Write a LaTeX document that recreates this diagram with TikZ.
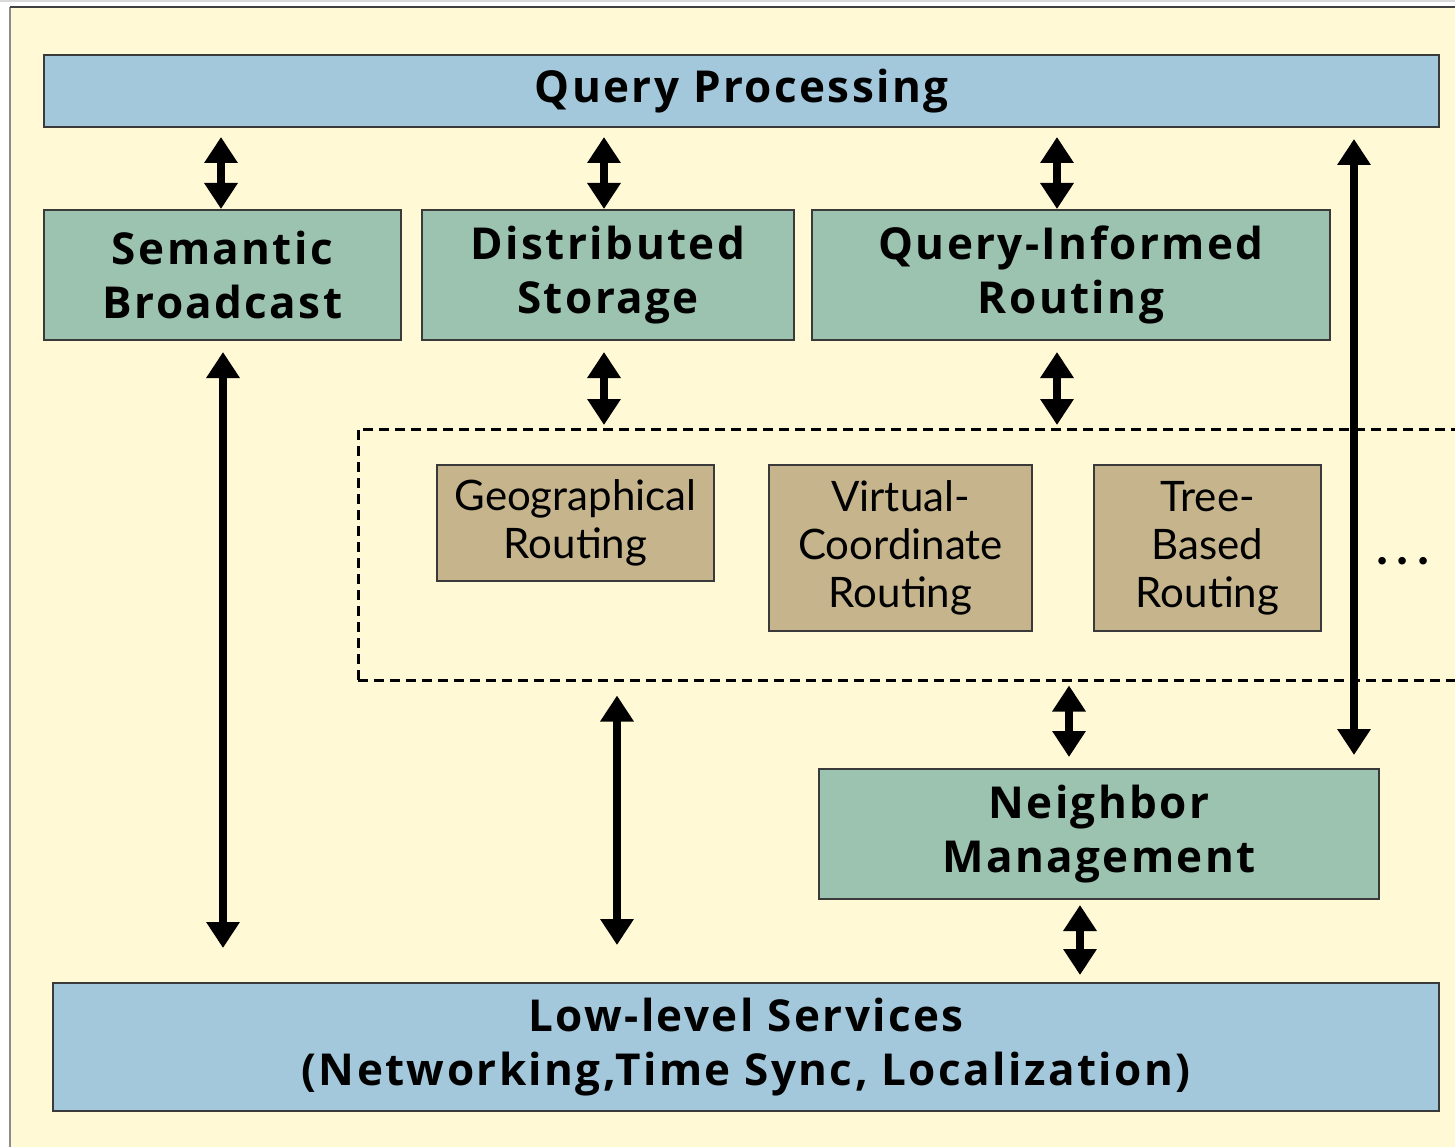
\documentclass[tikz,border=0pt]{standalone}
\usepackage{fontspec}
\setmainfont{Lato}
\newfontfamily\headfont[LetterSpace=5.5]{Open Sans}
\usetikzlibrary{arrows.meta}
\definecolor{panel}{HTML}{FFF9D6}
\definecolor{layerblue}{HTML}{A3C7DB}
\definecolor{svcgreen}{HTML}{9CC2B0}
\definecolor{routetan}{HTML}{C5B48C}
\definecolor{edgegray}{HTML}{3A3A3A}
\tikzset{
  box/.style={draw=edgegray, line width=2pt, anchor=north west, inner sep=0pt, align=center},
  layer/.style={box, fill=layerblue, font=\headfont\fontsize{44}{54}\selectfont\bfseries},
  service/.style={box, fill=svcgreen, font=\headfont\fontsize{44}{54}\selectfont\bfseries},
  router/.style={box, fill=routetan, font=\fontsize{42}{48}\selectfont},
  biarrow/.style={line width=8pt, {Triangle[width=32pt,length=26pt]}-{Triangle[width=32pt,length=26pt]}},
  dashbox/.style={draw=black, line width=2.5pt, dash pattern=on 10pt off 6pt},
}
\begin{document}
\begin{tikzpicture}[x=1pt,y=-1pt]
\useasboundingbox (0,0) rectangle (1455,1147);
% window frame and cream panel
\fill[white] (0,0) rectangle (1455,1147);
\fill[black!15] (0,0) rectangle (1455,2.5);
\fill[panel] (10,7) rectangle (1455,1147);
\draw[black!45, line width=2pt] (10,1147) -- (10,7);
\draw[black!75, line width=2.5pt] (10,7) -- (1455,7);

% top and bottom layers
\node[layer, minimum width=1395pt, minimum height=72pt] (qp) at (43,54) {Query Processing};
\node[layer, minimum width=1386pt, minimum height=128pt] (lls) at (52,982)
  {Low-level Services\\(Networking,Time Sync, Localization)};

% middle services
\node[service, minimum width=357pt, minimum height=130pt] (sb) at (43,209) {Semantic\\Broadcast};
\node[service, minimum width=372pt, minimum height=130pt] (ds) at (421,209) {Distributed\\Storage};
\node[service, minimum width=518pt, minimum height=130pt] (qir) at (811,209) {Query-Informed\\Routing};
\node[service, minimum width=560pt, minimum height=130pt] (nm) at (818,768) {Neighbor\\Management};

% routing substrate (open on the right)
\node[dashbox, anchor=north west, minimum width=1130pt, minimum height=251pt, inner sep=0pt] (rt) at (357,428) {};
\node[router, minimum width=277pt, minimum height=116pt] (geo) at (436,464) {Geographical\\Routing};
\node[router, minimum width=263pt, minimum height=166pt] (vc) at (768,464) {Virtual-\\Coordinate\\Routing};
\node[router, minimum width=227pt, minimum height=166pt] (tb) at (1093,464) {Tree-\\Based\\Routing};
\node[font=\fontsize{60}{60}\selectfont, anchor=base, inner sep=0pt] (more) at (1403,564) {.\hspace{6pt}.\hspace{6pt}.};

% connectors
\draw[biarrow, shorten <=9pt] (qp.south -| 221,0) -- (sb.north -| 221,0);
\draw[biarrow, shorten <=9pt] (qp.south -| 604,0) -- (ds.north -| 604,0);
\draw[biarrow, shorten <=9pt] (qp.south -| 1057,0) -- (qir.north -| 1057,0);
\draw[biarrow, shorten <=11pt, shorten >=13pt] (qp.south -| 1354,0) -- (nm.north -| 1354,0);
\draw[biarrow, shorten <=11pt, shorten >=34pt] (sb.south -| 223,0) -- (lls.north -| 223,0);
\draw[biarrow, shorten <=11pt, shorten >=3pt] (ds.south -| 604,0) -- (rt.north -| 604,0);
\draw[biarrow, shorten <=11pt, shorten >=3pt] (qir.south -| 1057,0) -- (rt.north -| 1057,0);
\draw[biarrow, shorten <=14pt, shorten >=37pt] (rt.south -| 617,0) -- (lls.north -| 617,0);
\draw[biarrow, shorten <=4pt, shorten >=11pt] (rt.south -| 1069,0) -- (nm.north -| 1069,0);
\draw[biarrow, shorten <=5pt, shorten >=7pt] (nm.south -| 1080,0) -- (lls.north -| 1080,0);
\end{tikzpicture}
\end{document}
